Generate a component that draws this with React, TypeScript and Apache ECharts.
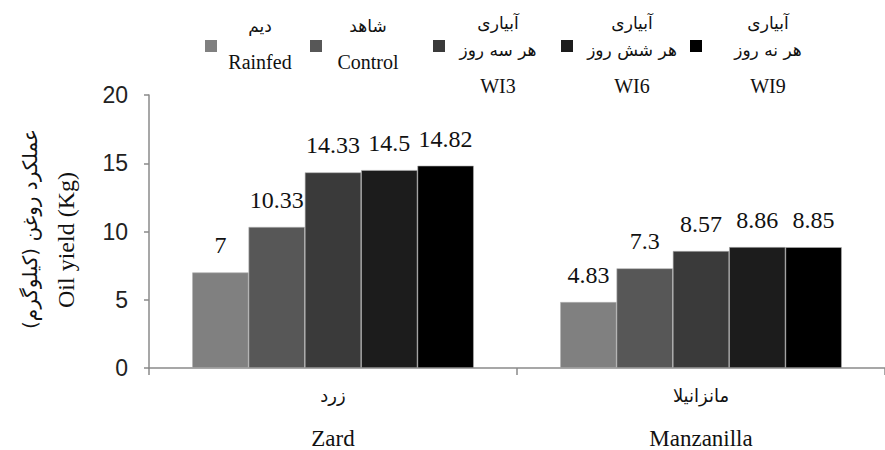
import React, { useEffect, useRef } from "react";
import * as echarts from "echarts";

const categoriesFa = ["زرد", "مانزانیلا"];
const categoriesEn = ["Zard", "Manzanilla"];

const seriesNames = ["Rainfed", "Control", "WI3", "WI6", "WI9"];
const rainfed = [7, 4.83];
const control = [10.33, 7.3];
const wi3 = [14.33, 8.57];
const wi6 = [14.5, 8.86];
const wi9 = [14.82, 8.85];
const seriesValues = [rainfed, control, wi3, wi6, wi9];
const seriesColors = ["#808080", "#575757", "#3a3a3a", "#1c1c1c", "#000000"];

const legendLines: string[][] = [
  ["دیم", "Rainfed"],
  ["شاهد", "Control"],
  ["آبیاری", "هر سه روز", "WI3"],
  ["آبیاری", "هر شش روز", "WI6"],
  ["آبیاری", "هر نه روز", "WI9"],
];

const yTitleFa = "عملکرد روغن (کیلوگرم)";
const yTitleEn = "Oil yield (Kg)";

const SERIF = "Liberation Serif";
const ARABIC = "DejaVu Sans";

export default function App() {
  const ref = useRef<HTMLDivElement>(null);
  useEffect(() => {
    if (!ref.current) return;
    const chart = echarts.init(ref.current, undefined, { renderer: "svg" });

    const squareX = [205, 310, 433, 561, 690];
    const textX = [260, 368, 498, 632, 768];
    const lineY2 = [26, 62];
    const lineY3 = [23, 50, 86];
    const legendGraphics: any[] = [];
    legendLines.forEach((lines, i) => {
      legendGraphics.push({
        type: "rect",
        shape: { x: squareX[i], y: 40, width: 12, height: 12 },
        style: { fill: seriesColors[i] },
      });
      const ys = lines.length === 2 ? lineY2 : lineY3;
      lines.forEach((t, j) => {
        const latin = /[A-Za-z]/.test(t);
        legendGraphics.push({
          type: "text",
          x: textX[i],
          y: ys[j],
          style: {
            text: t,
            fontFamily: latin ? SERIF : ARABIC,
            fontSize: latin ? 20 : 17,
            fill: "#111",
            textAlign: "center",
            textVerticalAlign: "middle",
          },
        });
      });
    });

    const option: any = {
      animation: false,
      backgroundColor: "#ffffff",
      textStyle: { fontFamily: SERIF },
      grid: { left: 149, top: 95, height: 274, width: 744, containLabel: false },
      xAxis: {
        type: "category",
        data: categoriesEn,
        axisLine: { show: true, lineStyle: { color: "#8a8a8a", width: 1.5 } },
        axisTick: { show: true, length: 7, lineStyle: { color: "#8a8a8a", width: 1.5 } },
        axisLabel: {
          margin: 6,
          formatter: (v: string, idx: number) => `{fa|${categoriesFa[idx]}}\n{en|${v}}`,
          rich: {
            fa: { fontFamily: ARABIC, fontSize: 18, lineHeight: 43, color: "#111" },
            en: { fontFamily: SERIF, fontSize: 23, lineHeight: 43, color: "#111" },
          },
        },
      },
      yAxis: {
        type: "value",
        min: 0,
        max: 20,
        interval: 5,
        splitLine: { show: false },
        axisLine: { show: true, lineStyle: { color: "#8a8a8a", width: 1.5 } },
        axisTick: { show: true, length: 5, lineStyle: { color: "#8a8a8a", width: 1.5 } },
        axisLabel: {
          margin: 21,
          fontFamily: "Liberation Sans",
          fontSize: 23,
          color: "#222",
        },
      },
      series: seriesNames.map((name, i) => ({
        name,
        type: "bar",
        data: seriesValues[i],
        barGap: "0%",
        barCategoryGap: "23.5%",
        itemStyle: { color: seriesColors[i], borderColor: "#b0b0b0", borderWidth: 0.6 },
        label: {
          show: true,
          position: "top",
          distance: 15,
          fontFamily: SERIF,
          fontSize: 24,
          color: "#111",
        },
      })),
      graphic: [
        ...legendGraphics,
        {
          type: "text",
          x: 30,
          y: 229,
          rotation: Math.PI / 2,
          style: {
            text: yTitleFa,
            fontFamily: ARABIC,
            fontSize: 20,
            fill: "#111",
            textAlign: "center",
            textVerticalAlign: "middle",
          },
        },
        {
          type: "text",
          x: 66,
          y: 240,
          rotation: Math.PI / 2,
          style: {
            text: yTitleEn,
            fontFamily: SERIF,
            fontSize: 24,
            fill: "#111",
            textAlign: "center",
            textVerticalAlign: "middle",
          },
        },
      ],
    };
    chart.setOption(option);
    return () => chart.dispose();
  }, []);
  return (
    <div
      ref={ref}
      style={{ position: "fixed", left: 0, top: 0, width: 885, height: 450, background: "#fff" }}
    />
  );
}
